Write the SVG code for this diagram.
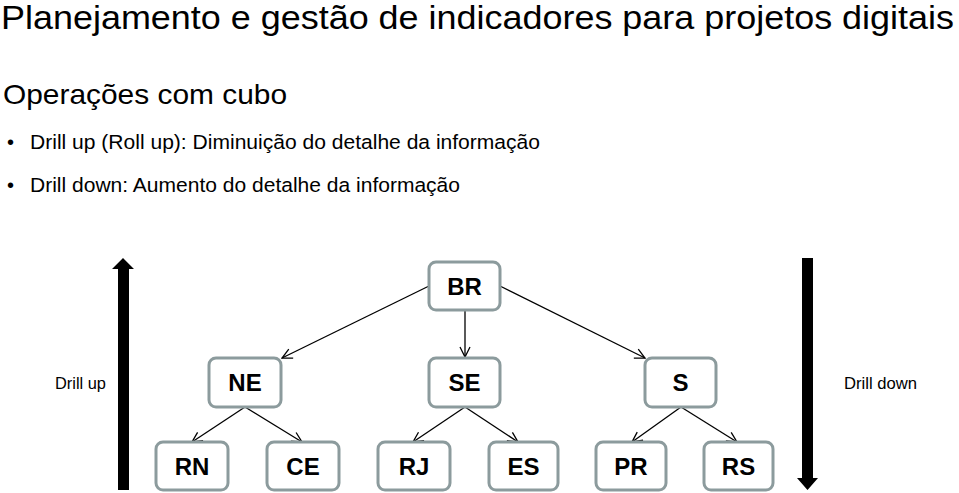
<svg xmlns="http://www.w3.org/2000/svg" width="959" height="493" viewBox="0 0 959 493">
<defs>
<style>
text{font-family:"Liberation Sans",Arial,sans-serif;fill:#000}
.node rect{fill:#fff;stroke:#8c9b9d;stroke-width:3}
.node text{font-size:24px;font-weight:bold;text-anchor:middle}
.conn line{stroke:#000;stroke-width:1.3;marker-end:url(#arr)}
</style>
<marker id="arr" viewBox="0 0 12 12" refX="11" refY="6" markerWidth="12" markerHeight="12" markerUnits="userSpaceOnUse" orient="auto">
<path d="M1,1 L11,6 L1,11" fill="none" stroke="#000" stroke-width="1.3"/>
</marker>
</defs>
<rect width="959" height="493" fill="#fff"/>
<text x="1" y="28.5" font-size="33.5" textLength="953" lengthAdjust="spacingAndGlyphs">Planejamento e gestão de indicadores para projetos digitais</text>
<text x="3" y="104" font-size="28.5" textLength="284" lengthAdjust="spacingAndGlyphs">Operações com cubo</text>
<text x="7" y="149" font-size="20">•</text>
<text x="30" y="149" font-size="20.5" textLength="510" lengthAdjust="spacingAndGlyphs">Drill up (Roll up): Diminuição do detalhe da informação</text>
<text x="7" y="192" font-size="20">•</text>
<text x="30" y="192" font-size="20.5" textLength="430" lengthAdjust="spacingAndGlyphs">Drill down: Aumento do detalhe da informação</text>
<g id="drill-up-arrow">
<polygon points="123,258 134,269 129,269 129,490 118,490 118,269 112,269" fill="#000"/>
<text x="55" y="389" font-size="16.5" textLength="51" lengthAdjust="spacingAndGlyphs">Drill up</text>
</g>
<g id="drill-down-arrow">
<polygon points="802,258 813,258 813,478 818,478 807.5,490 797,478 802,478" fill="#000"/>
<text x="844" y="389" font-size="16.5" textLength="73" lengthAdjust="spacingAndGlyphs">Drill down</text>
</g>
<g class="conn" id="connectors">
<line x1="429" y1="286" x2="282" y2="358"/>
<line x1="465" y1="310" x2="465" y2="357"/>
<line x1="500" y1="286" x2="645" y2="358"/>
<line x1="245" y1="407" x2="192" y2="442"/>
<line x1="245" y1="407" x2="302" y2="442"/>
<line x1="465" y1="407" x2="413" y2="442"/>
<line x1="465" y1="407" x2="518" y2="442"/>
<line x1="681" y1="407" x2="632" y2="442"/>
<line x1="681" y1="407" x2="737" y2="442"/>
</g>
<g class="node" id="BR"><rect x="429" y="262" width="71" height="48" rx="7"/><text x="464.5" y="295">BR</text></g>
<g class="node" id="NE"><rect x="209" y="358" width="72" height="49" rx="7"/><text x="245" y="391">NE</text></g>
<g class="node" id="SE"><rect x="429" y="358" width="71" height="49" rx="7"/><text x="464.5" y="391">SE</text></g>
<g class="node" id="S"><rect x="645" y="358" width="71" height="49" rx="7"/><text x="680.5" y="391">S</text></g>
<g class="node" id="RN"><rect x="156" y="442" width="72" height="48" rx="7"/><text x="192" y="475">RN</text></g>
<g class="node" id="CE"><rect x="267" y="442" width="72" height="48" rx="7"/><text x="303" y="475">CE</text></g>
<g class="node" id="RJ"><rect x="378" y="442" width="72" height="48" rx="7"/><text x="414" y="475">RJ</text></g>
<g class="node" id="ES"><rect x="489" y="442" width="69" height="48" rx="7"/><text x="523.5" y="475">ES</text></g>
<g class="node" id="PR"><rect x="596" y="442" width="70" height="48" rx="7"/><text x="631" y="475">PR</text></g>
<g class="node" id="RS"><rect x="704" y="442" width="69" height="48" rx="7"/><text x="738.5" y="475">RS</text></g>
</svg>
